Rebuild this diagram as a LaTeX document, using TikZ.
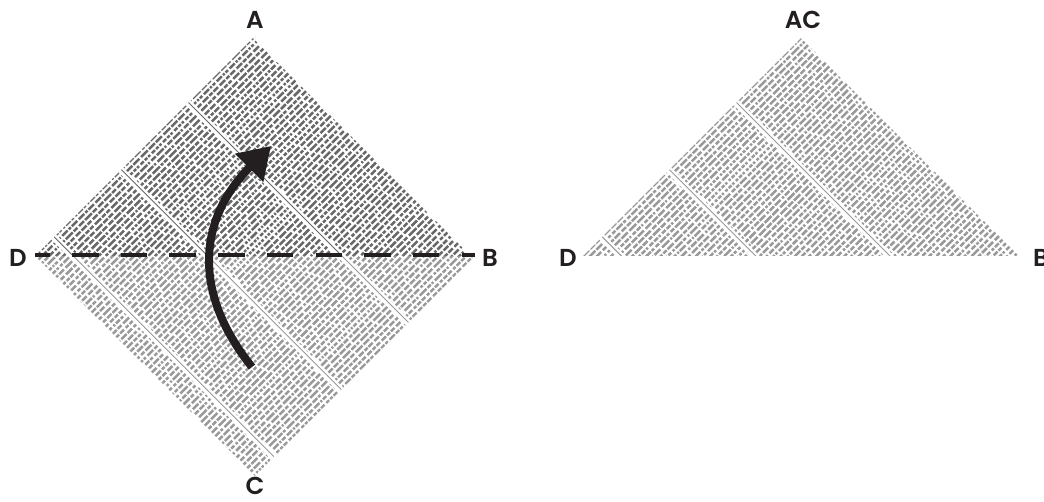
\documentclass[tikz,border=0pt]{standalone}
\usepackage{fontspec}
\setmainfont{Poppins}
\IfFontExistsTF{Poppins SemiBold}{\newfontfamily\cornerfont{Poppins SemiBold}}{%
  \IfFontExistsTF{Poppins Medium}{\newfontfamily\cornerfont{Poppins Medium}}{\newfontfamily\cornerfont{Poppins}[UprightFont=*,BoldFont=*,UprightFeatures={FakeBold=1.6}]}}
\usetikzlibrary{arrows.meta}
\definecolor{paperdark}{HTML}{A9A9A9}
\definecolor{inkdark}{HTML}{686868}
\definecolor{paperlight}{HTML}{E6E6E6}
\definecolor{inklight}{HTML}{999999}
\definecolor{labelink}{HTML}{231F20}

% newsprint texture on a 311 x 311 square: paper, ink, seed
\newcommand{\newsprint}[3]{%
  \fill[#1] (-6,-6) rectangle (317,317);
  \pgfmathsetseed{#3}
  \foreach \col in {0,...,3} {
    \draw[#2,line width=0.9pt] (-6,\col*95-1) -- (317,\col*95-1);
    \foreach \row in {0,...,62} {
      \pgfmathsetmacro\wa{2+8*rnd}
      \pgfmathsetmacro\wb{2+9*rnd}
      \pgfmathsetmacro\wc{2+7*rnd}
      \pgfmathsetmacro\ph{25*rnd}
      \draw[#2,line width=2.5pt,dash pattern=on \wa pt off 1.6pt on \wb pt off 2.4pt on \wc pt off 1.4pt,dash phase=\ph pt]
        (\row*5,\col*95+3) -- (\row*5,\col*95+91);
    }
  }
}

\tikzset{
  corner/.style={font=\cornerfont\fontsize{24.5}{24.5}\selectfont,text=labelink,inner sep=0pt},
  foldline/.style={labelink,line width=3.2pt,dash pattern=on 26.5pt off 22.2pt,dash phase=11.7pt},
  foldarrow/.style={labelink,line width=8pt,-{Triangle[length=31pt,width=38pt]}},
  square/.style={x={(0.7071pt,-0.7071pt)},y={(-0.7071pt,-0.7071pt)}}
}

\begin{document}
\begin{tikzpicture}[x=1pt,y=-1pt]
\useasboundingbox (0,0) rectangle (1044,501);

% Square sheet, upper half darker
\begin{scope}[shift={(255,36)},square]
  \begin{scope}
    \clip (0,0) -- (311,0) -- (0,311) -- cycle;
    \newsprint{paperdark}{inkdark}{11}
  \end{scope}
  \begin{scope}
    \clip (311,0) -- (311,311) -- (0,311) -- cycle;
    \newsprint{paperlight}{inklight}{11}
  \end{scope}
\end{scope}

% Folded triangle
\begin{scope}[shift={(803,36)},square]
  \clip (0,0) -- (311,0) -- (0,311) -- cycle;
  \newsprint{paperlight}{inklight}{23}
\end{scope}

\coordinate (pA) at (255,36);
\coordinate (pB) at (475,255);
\coordinate (pC) at (253,475);
\coordinate (pD) at (35,255);
\coordinate (foldstart) at (252,367);
\coordinate (foldend) at (271,146);

\draw[foldline] (pD) -- (pB);
\draw[foldarrow] (foldstart) .. controls (190,290) and (200,217) .. (foldend);

\node[corner] (lblA) at (255,20) {A};
\node[corner] (lblB) at (490,258) {B};
\node[corner] (lblC) at (255,486) {C};
\node[corner] (lblD) at (18,258) {D};
\node[corner] (lblAC) at (803,20) {AC};
\node[corner] (lblDt) at (568,258) {D};
\node[corner] (lblBt) at (1041,258) {B};
\end{tikzpicture}
\end{document}
